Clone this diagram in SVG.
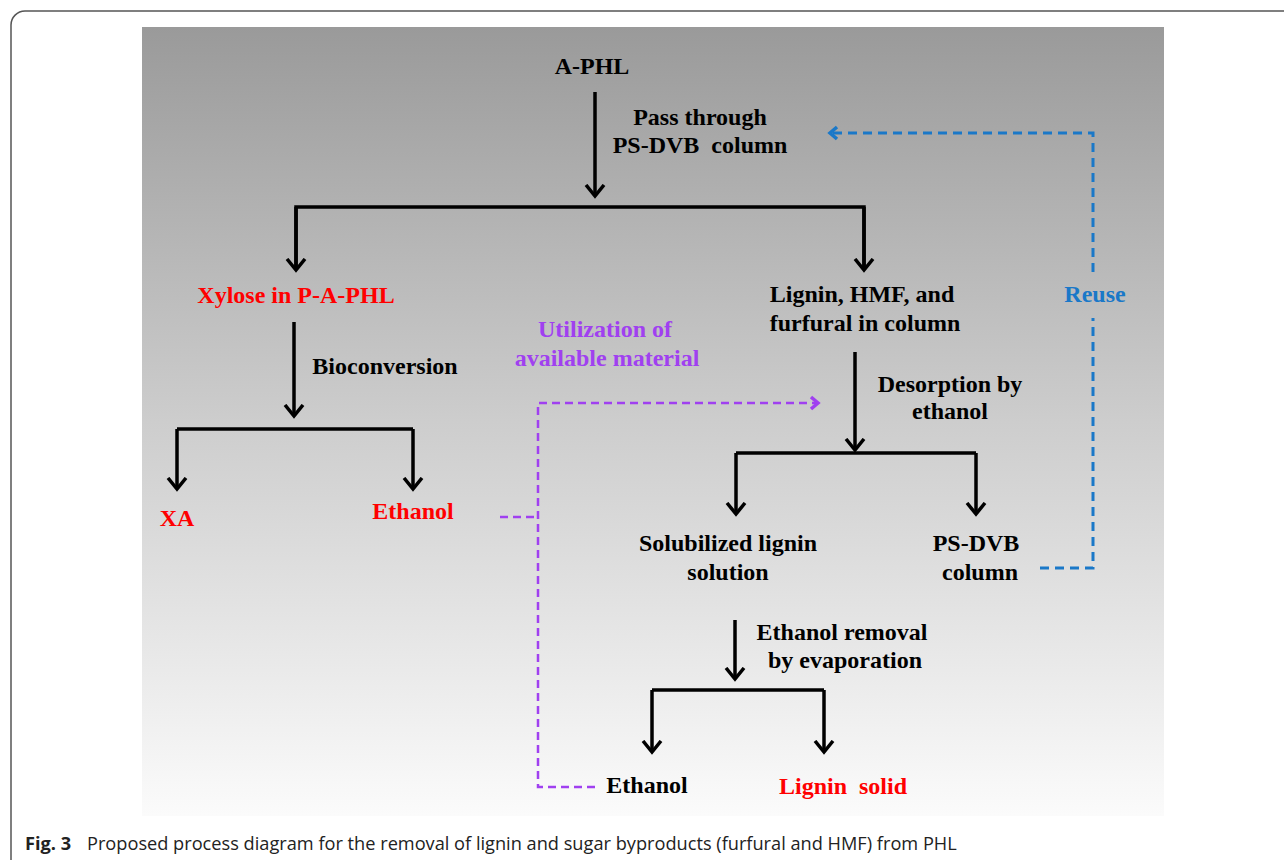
<svg xmlns="http://www.w3.org/2000/svg" width="1284" height="860" viewBox="0 0 1284 860">
<defs>
<linearGradient id="bg" x1="0" y1="0" x2="0" y2="1">
<stop offset="0" stop-color="#9a9a9a"/>
<stop offset="0.5" stop-color="#cdcdcd"/>
<stop offset="1" stop-color="#fbfbfb"/>
</linearGradient>
<marker id="ah" markerUnits="userSpaceOnUse" viewBox="-12 -12 24 24" markerWidth="24" markerHeight="24" refX="0" refY="0" orient="auto">
<path d="M-11,-9 L0,0 L-11,9" fill="none" stroke="#000" stroke-width="3.5" stroke-linejoin="miter"/>
</marker>
<marker id="ahb" markerUnits="userSpaceOnUse" viewBox="-12 -12 24 24" markerWidth="24" markerHeight="24" refX="0" refY="0" orient="auto">
<path d="M-7,-6 L0,0 L-7,6" fill="none" stroke="#1a78c8" stroke-width="3.5"/>
</marker>
<marker id="ahp" markerUnits="userSpaceOnUse" viewBox="-12 -12 24 24" markerWidth="24" markerHeight="24" refX="0" refY="0" orient="auto">
<path d="M-7,-6 L0,0 L-7,6" fill="none" stroke="#a040f0" stroke-width="3.5"/>
</marker>
</defs>
<style>
text{font-family:"Liberation Serif","Times New Roman",serif;font-weight:bold;font-size:24px;text-anchor:middle}
.k{fill:#000}
.r{fill:#ff0000}
.p{fill:#a040f0}
.b{fill:#1a78c8}
.ar{fill:none;stroke:#000;stroke-width:3.5;marker-end:url(#ah)}
.bar{fill:none;stroke:#000;stroke-width:3.5}
.db{fill:none;stroke:#1a78c8;stroke-width:3;stroke-dasharray:9 6}
.dp{fill:none;stroke:#a040f0;stroke-width:2.5;stroke-dasharray:8 5}
.cap{font-family:"Open Sans","Noto Sans",sans-serif;font-weight:normal;font-size:18.2px;text-anchor:start;fill:#222}
</style>
<rect x="11" y="11" width="1320" height="900" rx="14" fill="#fff" stroke="#555" stroke-width="1.5"/>
<rect x="142" y="27" width="1022" height="789" fill="url(#bg)"/>

<g id="connectors">
<path class="ar" d="M595,92 V196"/>
<path class="bar" d="M296,270 V207 H864 V270"/>
<path class="ar" d="M296,207 V270"/>
<path class="ar" d="M864,207 V270"/>
<path class="ar" d="M294,322 V416"/>
<path class="bar" d="M177,429 H413"/>
<path class="ar" d="M177,429 V489"/>
<path class="ar" d="M413,429 V489"/>
<path class="ar" d="M855,352 V450"/>
<path class="bar" d="M736,453 H976"/>
<path class="ar" d="M736,453 V514"/>
<path class="ar" d="M976,453 V514"/>
<path class="ar" d="M735,620 V679"/>
<path class="bar" d="M652,690 H824"/>
<path class="ar" d="M652,690 V752"/>
<path class="ar" d="M824,690 V752"/>
<path class="db" d="M1040,568 H1093 V318"/>
<path class="db" d="M1093,272 V133 H830" marker-end="url(#ahb)"/>
<path class="dp" d="M500,517 H538"/>
<path class="dp" d="M595,787 H538 V403 H818" marker-end="url(#ahp)"/>
</g>

<g id="n-aphl"><text class="k" x="592" y="74">A-PHL</text></g>
<g id="l-pass"><text class="k" x="700" y="125">Pass through</text><text class="k" x="700" y="153" xml:space="preserve">PS-DVB  column</text></g>
<g id="n-xylose"><text class="r" x="296" y="303">Xylose in P-A-PHL</text></g>
<g id="n-lignin"><text class="k" x="862" y="302">Lignin, HMF, and</text><text class="k" x="865" y="331">furfural in column</text></g>
<g id="l-reuse"><text class="b" x="1095" y="302">Reuse</text></g>
<g id="l-util"><text class="p" x="605" y="337">Utilization of</text><text class="p" x="607" y="366">available material</text></g>
<g id="l-bio"><text class="k" x="385" y="374">Bioconversion</text></g>
<g id="l-desorp"><text class="k" x="950" y="392">Desorption by</text><text class="k" x="950" y="419">ethanol</text></g>
<g id="n-xa"><text class="r" x="177" y="526">XA</text></g>
<g id="n-ethanol1"><text class="r" x="413" y="519">Ethanol</text></g>
<g id="n-solub"><text class="k" x="728" y="551">Solubilized lignin</text><text class="k" x="728" y="580">solution</text></g>
<g id="n-psdvb"><text class="k" x="976" y="551">PS-DVB</text><text class="k" x="980" y="580">column</text></g>
<g id="l-evap"><text class="k" x="842" y="640">Ethanol removal</text><text class="k" x="845" y="668">by evaporation</text></g>
<g id="n-ethanol2"><text class="k" x="647" y="793">Ethanol</text></g>
<g id="n-ligninsolid"><text class="r" x="843" y="794" xml:space="preserve">Lignin  solid</text></g>
<g id="caption"><text class="cap" x="25" y="850"><tspan font-weight="bold">Fig. 3</tspan><tspan x="87">Proposed process diagram for the removal of lignin and sugar byproducts (furfural and HMF) from PHL</tspan></text></g>
</svg>
